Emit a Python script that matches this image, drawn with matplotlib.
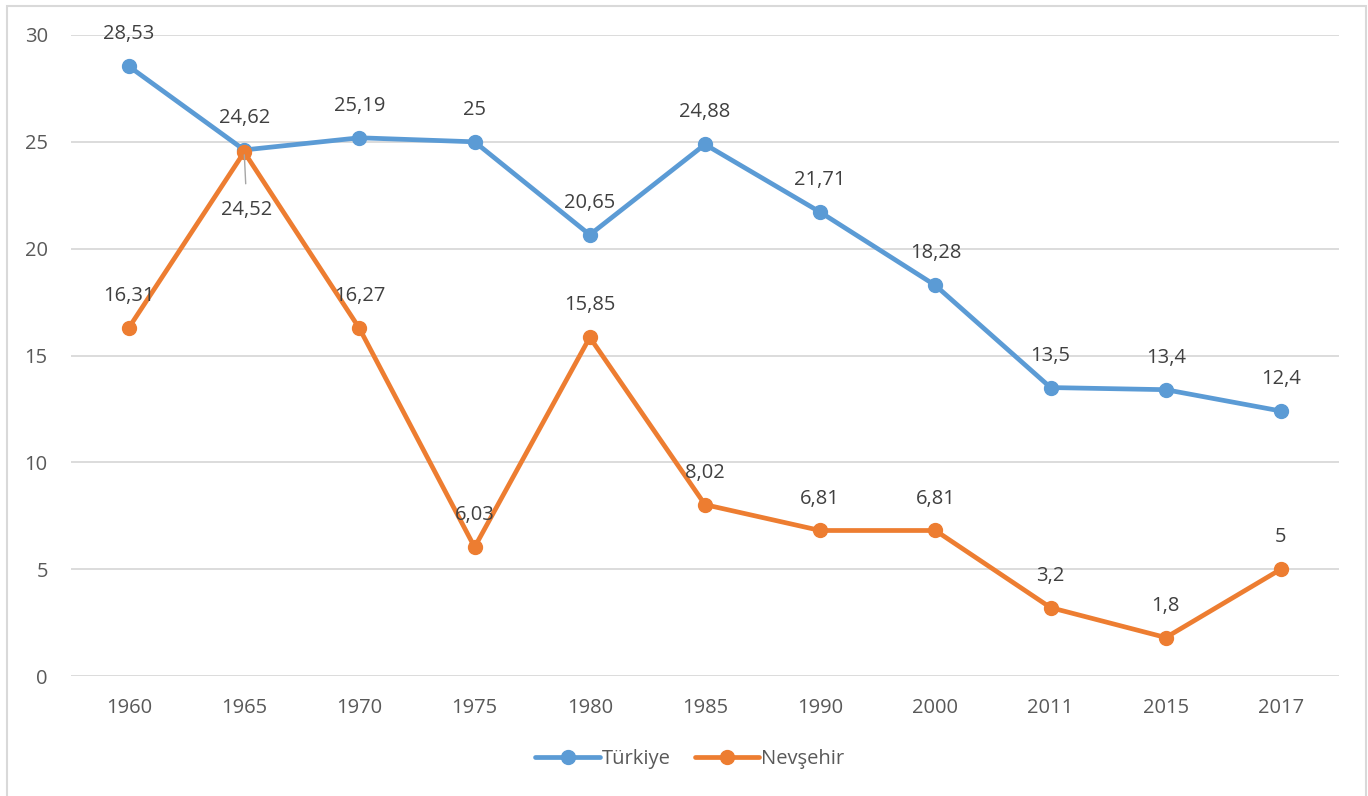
import numpy as np
import matplotlib
matplotlib.use('Agg')
import matplotlib.pyplot as plt
from matplotlib.patches import Rectangle

# data
years = ['1960', '1965', '1970', '1975', '1980', '1985', '1990', '2000', '2011', '2015', '2017']
turkiye = [28.53, 24.62, 25.19, 25.0, 20.65, 24.88, 21.71, 18.28, 13.5, 13.4, 12.4]
nevsehir = [16.31, 24.52, 16.27, 6.03, 15.85, 8.02, 6.81, 6.81, 3.2, 1.8, 5.0]
turkiye_lbl = ['28,53', '24,62', '25,19', '25', '20,65', '24,88', '21,71', '18,28', '13,5', '13,4', '12,4']
nevsehir_lbl = ['16,31', '24,52', '16,27', '6,03', '15,85', '8,02', '6,81', '6,81', '3,2', '1,8', '5']

plt.rcParams['font.family'] = ['Open Sans', 'DejaVu Sans']
txt_col = '#404040'
tick_col = '#595959'
blue = '#5B9BD5'
orange = '#ED7D31'

W, H = 1368, 796
fig = plt.figure(figsize=(W / 100, H / 100), dpi=100)
ax = fig.add_axes([71.4 / W, 1 - 676 / H, (1338.6 - 71.4) / W, (676 - 35) / H])

x = np.arange(len(years))
ax.plot(x, turkiye, color=blue, lw=3.4, marker='o', ms=10, label='Türkiye', zorder=3,
        solid_capstyle='round')
ax.plot(x, nevsehir, color=orange, lw=3.4, marker='o', ms=10, label='Nevşehir', zorder=4,
        solid_capstyle='round')

fs = 14.5
for i in range(len(x)):
    ax.annotate(turkiye_lbl[i], (x[i], turkiye[i]), xytext=(0, 23), textcoords='offset points',
                ha='center', va='center', fontsize=fs, color=txt_col, zorder=5)
    if i == 1:
        # label below with a leader line
        ax.annotate(nevsehir_lbl[i], (x[i], nevsehir[i]), xytext=(2, -42), textcoords='offset points',
                    ha='center', va='center', fontsize=fs, color=txt_col, zorder=5,
                    arrowprops=dict(arrowstyle='-', color='#A6A6A6', lw=1, shrinkA=10, shrinkB=2))
    else:
        ax.annotate(nevsehir_lbl[i], (x[i], nevsehir[i]), xytext=(0, 23), textcoords='offset points',
                    ha='center', va='center', fontsize=fs, color=txt_col, zorder=5)

ax.set_xlim(-0.5, len(years) - 0.5)
ax.set_ylim(0, 30)
ax.set_yticks([0, 5, 10, 15, 20, 25, 30])
ax.set_xticks(x)
ax.set_xticklabels(years)
ax.tick_params(axis='both', length=0, labelsize=fs, labelcolor=tick_col)
ax.tick_params(axis='x', pad=16)
ax.tick_params(axis='y', pad=17)
ax.grid(axis='y', color='#D9D9D9', lw=1.3)
ax.set_axisbelow(True)
for s in ax.spines.values():
    s.set_visible(False)

leg = fig.legend(loc='center', bbox_to_anchor=(690 / W, 1 - 759 / H), ncol=2, frameon=False,
                 fontsize=fs, handlelength=3.2, handletextpad=0.1, columnspacing=1.2)
for t in leg.get_texts():
    t.set_color(tick_col)

# outer chart frame
fig.patches.append(Rectangle((7 / W, -0.05), (1366 - 7) / W, 1.05 - 6 / H,
                             transform=fig.transFigure, fill=False, ec='#D9D9D9', lw=1.5))

fig.savefig('out.png', dpi=100)
